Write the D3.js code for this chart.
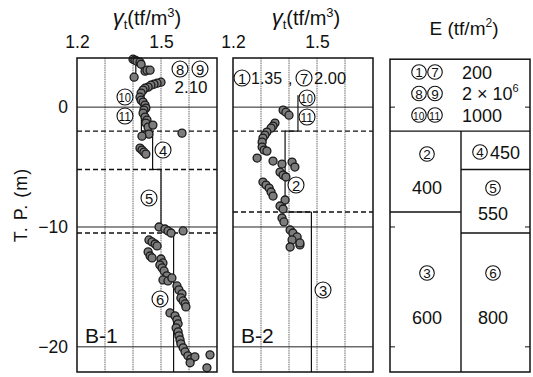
<!DOCTYPE html>
<html>
<head>
<meta charset="utf-8">
<script src="https://cdn.jsdelivr.net/npm/d3@7/dist/d3.min.js"></script>
<style>
  html, body { margin: 0; padding: 0; background: #fff; }
  svg { display: block; font-family: "Liberation Sans", Arial, sans-serif; }
</style>
</head>
<body>
<svg id="chart" width="533" height="377"></svg>
<script>
// ---- data ----------------------------------------------------------
const gammaTicks = [1.2, 1.5];
const gammaGrid = [1.3, 1.4, 1.5, 1.6];
const depthTicks = [0, -10, -20];

// boring B-1: unit weight (tf/m3) vs elevation T.P. (m)
const b1Gamma = [1.400,1.407,1.414,1.425,1.429,1.404,1.443,1.450,1.461,1.500,1.486,1.475,1.464,1.454,1.443,1.436,
  1.429,1.425,1.429,1.436,1.443,1.446,1.439,1.436,1.443,1.450,1.446,1.454,1.471,1.575,1.457,1.432,1.425,1.432,1.439,1.446,
  1.493,1.514,1.525,1.536,1.579,1.457,1.468,1.479,1.486,1.454,1.461,1.468,1.500,1.507,1.496,1.504,1.511,1.521,1.507,1.525,
  1.539,1.557,1.564,1.575,1.571,1.579,1.586,1.589,1.532,1.550,1.557,1.561,1.554,1.561,1.564,1.568,1.571,1.579,1.586,1.596,
  1.607,1.621,1.604,1.675,1.664];
const b1Depth = [4.00,3.92,3.83,3.75,3.58,2.50,3.00,3.08,3.08,2.08,2.00,1.92,1.83,1.67,1.58,1.42,
  1.17,0.83,0.58,0.42,0.17,-0.08,-0.25,-0.50,-0.83,-1.08,-1.33,-1.67,-1.50,-2.17,-2.25,-2.42,-3.42,-3.58,-3.75,-3.92,
  -10.00,-10.17,-10.33,-10.50,-10.33,-11.08,-11.25,-11.42,-11.58,-12.08,-12.42,-12.58,-12.67,-13.00,-13.17,-13.42,-13.67,-14.08,-14.42,-14.50,
  -14.25,-14.92,-15.25,-15.58,-15.92,-16.17,-16.42,-16.67,-17.17,-17.42,-17.75,-18.08,-18.42,-18.75,-19.08,-19.42,-19.75,-20.08,-20.42,-20.75,
  -21.00,-20.83,-21.33,-20.67,-21.75];

// boring B-2
const b2Gamma = [1.379,1.389,1.400,1.350,1.343,1.336,1.321,1.314,1.307,1.304,1.304,1.311,1.321,1.286,1.343,1.375,1.411,1.421,
  1.368,1.379,1.389,1.307,1.318,1.329,1.336,1.343,1.386,1.368,1.379,1.375,1.382,1.404,1.414,1.429,1.411,1.439,1.404,1.439];
const b2Depth = [-0.25,-0.42,-0.67,-1.33,-1.58,-1.75,-2.08,-2.33,-2.58,-2.92,-3.33,-3.58,-3.67,-4.25,-4.50,-4.75,-4.58,-5.00,
  -5.42,-5.67,-5.83,-6.25,-6.50,-6.75,-7.08,-7.42,-7.75,-8.25,-8.50,-9.25,-9.58,-10.25,-10.50,-10.83,-11.08,-11.50,-11.67,-11.33];

// design unit weight per layer (vertical lines)
const b1LayerTop    = [4.0, 1.7, -2.0, -5.2, -10.5];
const b1LayerBottom = [2.3, -2.0, -5.2, -10.0, -22.1];
const b1LayerGamma  = [1.41, 1.43, 1.47, 1.50, 1.545];
const b2LayerTop    = [1.0, -2.0, -8.75];
const b2LayerBottom = [-2.0, -8.75, -22.1];
const b2LayerGamma  = [1.432, 1.386, 1.48];

// layer boundaries (dashed)
const b1Bounds = [-2.0, -5.2, -10.5];
const b2Bounds = [-2.0, -8.75];

// Young's modulus table (tf/m2)
const eTopRows = [
  {ids: ["1", "7"], val: "200"},
  {ids: ["8", "9"], val: "2 × 10", sup: "6"},
  {ids: ["10", "11"], val: "1000"}
];
const eLeftBounds = [-2.0, -8.75];
const eRightBounds = [-2.0, -5.2, -10.5];
const eCells = [
  {id: "2", val: "400", col: 0},
  {id: "3", val: "600", col: 0},
  {id: "4", val: "450", col: 1},
  {id: "5", val: "550", col: 1},
  {id: "6", val: "800", col: 1}
];

// ---- drawing -------------------------------------------------------
const svg = d3.select("#chart");
const ink = "#111";
const y = d3.scaleLinear().domain([4.1, -22.1]).range([58, 372]);
const x1 = d3.scaleLinear().domain([1.2, 1.7]).range([77, 217]);
const x2 = d3.scaleLinear().domain([1.2, 1.7]).range([233, 373]);
const ex = d3.scaleLinear().domain([0, 1, 2]).range([390, 461, 530]);

function circled(g, cx, cy, label, r) {
  r = r || 8;
  g.append("circle").attr("cx", cx).attr("cy", cy).attr("r", r)
    .attr("fill", "#fff").attr("stroke", ink).attr("stroke-width", 1.1);
  const two = label.length > 1;
  g.append("text").attr("x", two ? cx - 0.3 : cx).attr("y", cy + 0.6)
    .attr("text-anchor", "middle").attr("dominant-baseline", "central")
    .attr("font-size", two ? r * 1.5 : r * 1.85)
    .attr("textLength", two ? r * 1.55 : null)
    .attr("lengthAdjust", "spacingAndGlyphs")
    .attr("fill", ink).text(label);
}

function gammaTitle(cx) {
  const t = svg.append("text").attr("x", cx).attr("y", 25).attr("text-anchor", "middle")
    .attr("fill", ink).attr("font-size", 20);
  t.append("tspan").attr("font-style", "italic").attr("font-size", 22).text("γ");
  t.append("tspan").attr("font-size", 13).attr("dy", 4).text("t");
  t.append("tspan").attr("dy", -4).text("(tf/m");
  t.append("tspan").attr("font-size", 13).attr("dy", -8).text("3");
  t.append("tspan").attr("dy", 8).text(")");
}

function panel(x, gammas, depths, lTop, lBot, lGamma, bounds, name) {
  const g = svg.append("g");
  // vertical grid
  g.selectAll(".vg").data(gammaGrid).join("line")
    .attr("x1", d => x(d)).attr("x2", d => x(d))
    .attr("y1", y(4.1)).attr("y2", y(-22.1))
    .attr("stroke", "#555").attr("stroke-width", 0.9).attr("stroke-dasharray", "1.5,0.8");
  // horizontal grid
  g.selectAll(".hg").data(depthTicks).join("line")
    .attr("x1", x(1.2)).attr("x2", x(1.7))
    .attr("y1", d => y(d)).attr("y2", d => y(d))
    .attr("stroke", "#222").attr("stroke-width", 1);
  // layer boundaries
  g.selectAll(".bd").data(bounds).join("line")
    .attr("x1", x(1.2)).attr("x2", x(1.7))
    .attr("y1", d => y(d)).attr("y2", d => y(d))
    .attr("stroke", ink).attr("stroke-width", 1.4).attr("stroke-dasharray", "5,3");
  // design values
  lGamma.forEach((v, i) => {
    g.append("line").attr("x1", x(v)).attr("x2", x(v))
      .attr("y1", y(lTop[i])).attr("y2", y(lBot[i]))
      .attr("stroke", ink).attr("stroke-width", 1.2);
    if (i > 0 && lTop[i] === lBot[i - 1]) {
      g.append("line").attr("x1", x(lGamma[i - 1])).attr("x2", x(v))
        .attr("y1", y(lTop[i])).attr("y2", y(lTop[i]))
        .attr("stroke", ink).attr("stroke-width", 1.2);
    }
  });
  // measured points
  g.selectAll(".pt").data(d3.range(gammas.length)).join("circle")
    .attr("cx", i => x(gammas[i])).attr("cy", i => y(depths[i])).attr("r", 4)
    .attr("fill", "#7c7c7c").attr("stroke", "#1a1a1a").attr("stroke-width", 1.3);
  // frame
  g.append("rect").attr("x", x(1.2)).attr("y", y(4.1))
    .attr("width", x(1.7) - x(1.2)).attr("height", y(-22.1) - y(4.1))
    .attr("fill", "none").attr("stroke", ink).attr("stroke-width", 1.5);
  // top axis labels
  const ax = svg.append("g").attr("transform", `translate(0,${y(4.1)})`)
    .call(d3.axisTop(x).tickValues(gammaTicks).tickSize(0).tickPadding(10).tickFormat(d3.format(".1f")));
  ax.select(".domain").remove();
  ax.selectAll("text").attr("font-size", 17.5).attr("fill", ink)
    .attr("font-family", "Liberation Sans, Arial, sans-serif");
  // boring name
  g.append("text").attr("x", x(1.2) + 8).attr("y", y(-20) - 4)
    .attr("font-size", 21).attr("fill", ink).text(name);
  return g;
}

const p1 = panel(x1, b1Gamma, b1Depth, b1LayerTop, b1LayerBottom, b1LayerGamma, b1Bounds, "B-1");
const p2 = panel(x2, b2Gamma, b2Depth, b2LayerTop, b2LayerBottom, b2LayerGamma, b2Bounds, "B-2");

gammaTitle(147);
gammaTitle(306);

// left axis
const ay = svg.append("g").attr("transform", `translate(${x1(1.2)},0)`)
  .call(d3.axisLeft(y).tickValues(depthTicks).tickSize(0).tickPadding(9)
    .tickFormat(d => d === 0 ? "0" : "−" + Math.abs(d)));
ay.select(".domain").remove();
ay.selectAll("text").attr("font-size", 17.5).attr("fill", ink)
  .attr("font-family", "Liberation Sans, Arial, sans-serif");

svg.append("text").attr("transform", "translate(27,205) rotate(-90)")
  .attr("text-anchor", "middle").attr("font-size", 18).attr("fill", ink)
  .attr("letter-spacing", 1).text("T. P.  (m)");

// annotations in B-1
circled(p1, 180, 69, "8");
circled(p1, 200, 69, "9");
p1.append("text").attr("x", 191).attr("y", 93).attr("text-anchor", "middle")
  .attr("font-size", 17).attr("fill", ink).text("2.10");
circled(p1, 125, 97, "10");
circled(p1, 125, 116, "11");
circled(p1, 163, 150, "4");
circled(p1, 149, 198, "5");
circled(p1, 160, 299, "6");

// annotations in B-2
circled(p2, 242, 78, "1");
p2.append("text").attr("x", 251).attr("y", 84).attr("font-size", 16).attr("fill", ink).text("1.35");
circled(p2, 304, 78, "7");
p2.append("text").attr("x", 288).attr("y", 84).attr("font-size", 16).attr("fill", ink).text(",");
p2.append("text").attr("x", 314).attr("y", 84).attr("font-size", 16.5).attr("fill", ink).text("2.00");
circled(p2, 307, 98, "10");
circled(p2, 307, 117, "11");
circled(p2, 296, 185, "2");
circled(p2, 323, 290, "3");

// E table
const eg = svg.append("g");
svg.append("text").attr("x", 464).attr("y", 35).attr("text-anchor", "middle")
  .attr("font-size", 19).attr("fill", ink)
  .call(t => {
    t.append("tspan").text("E (tf/m");
    t.append("tspan").attr("font-size", 12).attr("dy", -8).text("2");
    t.append("tspan").attr("dy", 8).text(")");
  });
const eTop = y(4.0), eBot = y(-22.1);
eg.append("rect").attr("x", ex(0)).attr("y", eTop).attr("width", ex(2) - ex(0))
  .attr("height", eBot - eTop).attr("fill", "none").attr("stroke", ink).attr("stroke-width", 1.5);
eg.append("line").attr("x1", ex(0)).attr("x2", ex(2)).attr("y1", y(-2)).attr("y2", y(-2))
  .attr("stroke", ink).attr("stroke-width", 1.4);
eg.append("line").attr("x1", ex(1)).attr("x2", ex(1)).attr("y1", y(-2)).attr("y2", eBot)
  .attr("stroke", ink).attr("stroke-width", 1.4);
eLeftBounds.slice(1).forEach(b => eg.append("line").attr("x1", ex(0)).attr("x2", ex(1))
  .attr("y1", y(b)).attr("y2", y(b)).attr("stroke", ink).attr("stroke-width", 1.4));
eRightBounds.slice(1).forEach(b => eg.append("line").attr("x1", ex(1)).attr("x2", ex(2))
  .attr("y1", y(b)).attr("y2", y(b)).attr("stroke", ink).attr("stroke-width", 1.4));
// elevation ticks on the table edges
depthTicks.forEach(d => {
  eg.append("line").attr("x1", ex(0)).attr("x2", ex(0) + 5).attr("y1", y(d)).attr("y2", y(d))
    .attr("stroke", ink).attr("stroke-width", 1);
  eg.append("line").attr("x1", ex(2) - 5).attr("x2", ex(2)).attr("y1", y(d)).attr("y2", y(d))
    .attr("stroke", ink).attr("stroke-width", 1);
});
eTopRows.forEach((r, i) => {
  const cy = 72 + i * 21.5;
  circled(eg, 419, cy, r.ids[0], 7.3);
  circled(eg, 435, cy, r.ids[1], 7.3);
  const t = eg.append("text").attr("x", 462).attr("y", cy + 6.5).attr("font-size", 18).attr("fill", ink);
  t.append("tspan").text(r.val);
  if (r.sup) t.append("tspan").attr("font-size", 11).attr("dy", -8).text(r.sup);
});
const cellPos = {
  "2": {c: [427, 154], v: [427, 187]},
  "3": {c: [427, 273], v: [427, 317]},
  "5": {c: [493, 188], v: [493, 213]},
  "6": {c: [493, 273], v: [493, 317]}
};
eCells.forEach(c => {
  if (c.id === "4") {
    circled(eg, 480, 152, c.id, 7.3);
    eg.append("text").attr("x", 490).attr("y", 158.5).attr("font-size", 18).attr("fill", ink).text(c.val);
    return;
  }
  const p = cellPos[c.id];
  circled(eg, p.c[0], p.c[1], c.id, 7.3);
  eg.append("text").attr("x", p.v[0]).attr("y", p.v[1] + 6.5).attr("text-anchor", "middle")
    .attr("font-size", 18).attr("fill", ink).text(c.val);
});
</script>
</body>
</html>
